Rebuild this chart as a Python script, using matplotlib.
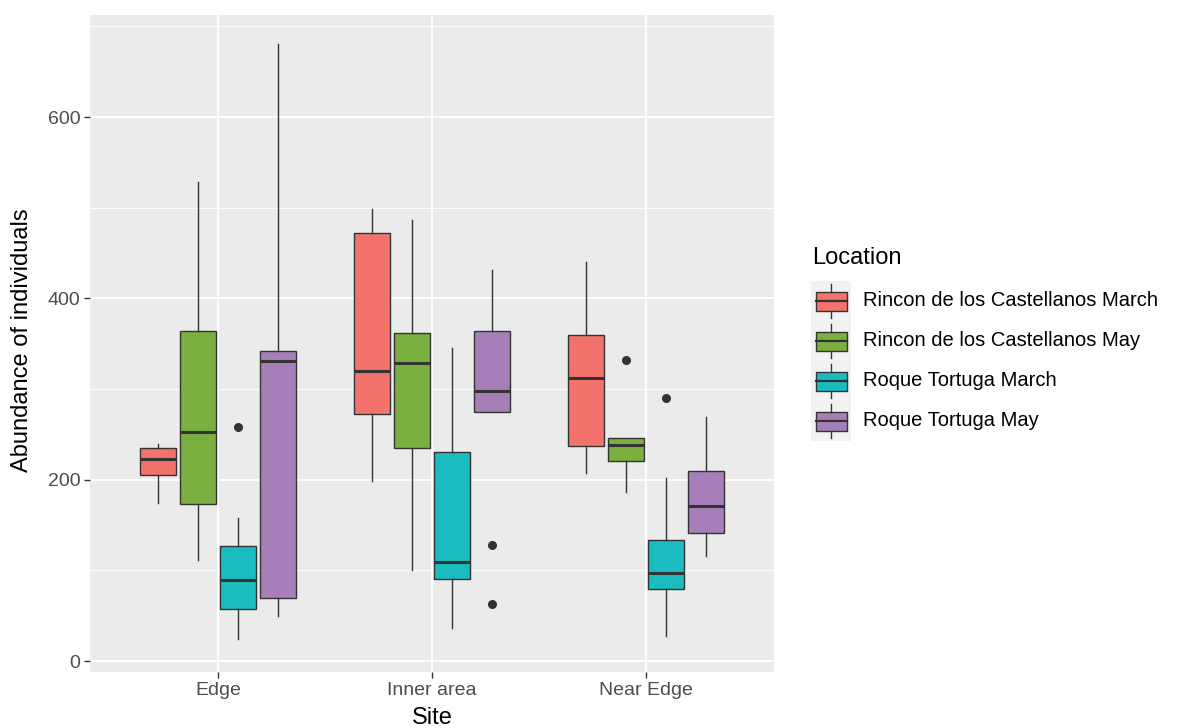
import matplotlib
matplotlib.use("Agg")
import matplotlib.pyplot as plt
from matplotlib.patches import Rectangle
import numpy as np

plt.rcParams['font.family'] = ['Liberation Sans', 'DejaVu Sans']

# data
sites = ['Edge', 'Inner area', 'Near Edge']
locations = ['Rincon de los Castellanos March', 'Rincon de los Castellanos May',
             'Roque Tortuga March', 'Roque Tortuga May']
colors = ['#F2736B', '#7BAF3F', '#1BBCBF', '#A67FB9']

# one row per location, one column per site
whislo = [[174, 199, 207], [111, 101, 186], [24, 37, 28], [50, 275, 116]]
q1 = [[205, 273, 237], [173, 235, 221], [58, 91, 79], [70, 275, 141]]
med = [[223, 320, 312], [253, 329, 238], [90, 109, 97], [331, 298, 171]]
q3 = [[235, 472, 360], [364, 362, 246], [127, 231, 134], [342, 364, 210]]
whishi = [[239, 499, 440], [528, 486, 246], [158, 345, 202], [680, 431, 269]]
fliers = [[[], [], []], [[], [], [332]], [[258], [], [290]], [[], [128, 63], []]]

W, H = 1178, 728
fig = plt.figure(figsize=(W / 100, H / 100), dpi=100)
ax = fig.add_axes([90 / W, 1 - 672 / H, (774 - 90) / W, (672 - 15) / H])
ax.set_facecolor('#EBEBEB')
for s in ax.spines.values():
    s.set_visible(False)

dodge = 0.75 / len(locations)
for j, loc in enumerate(locations):
    stats = []
    for i in range(len(sites)):
        stats.append(dict(whislo=whislo[j][i], q1=q1[j][i], med=med[j][i],
                          q3=q3[j][i], whishi=whishi[j][i], fliers=fliers[j][i]))
    pos = np.arange(1, len(sites) + 1) + (j - 1.5) * dodge
    ax.bxp(stats, positions=pos, widths=dodge * 0.9, patch_artist=True,
           showcaps=False, manage_ticks=False,
           boxprops=dict(facecolor=colors[j], edgecolor='#333333', linewidth=1.0),
           medianprops=dict(color='#333333', linewidth=2.2, solid_capstyle='butt'),
           whiskerprops=dict(color='#333333', linewidth=1.0),
           flierprops=dict(marker='o', markerfacecolor='#333333',
                           markeredgecolor='#333333', markersize=5.5))

ax.set_xlim(0.4, 3.6)
ax.set_ylim(-12, 712.5)
ax.set_xticks([1, 2, 3])
ax.set_xticklabels(sites)
ax.set_yticks([0, 200, 400, 600])
ax.set_yticks([100, 300, 500, 700], minor=True)
ax.set_axisbelow(True)
ax.grid(which='major', color='white', linewidth=1.4)
ax.grid(which='minor', axis='y', color='white', linewidth=0.7)
ax.tick_params(which='major', length=4, width=1, color='#333333',
               labelcolor='#4D4D4D', labelsize=14, pad=3)
ax.tick_params(which='minor', length=0)

fig.text(22 / W, 1 - 340 / H, 'Abundance of individuals', rotation=90,
         ha='center', va='center', fontsize=17)
fig.text(432 / W, 1 - 718 / H, 'Site', ha='center', va='center', fontsize=17)

# legend drawn like ggplot keys
lax = fig.add_axes([0, 0, 1, 1])
lax.set_xlim(0, W)
lax.set_ylim(H, 0)
lax.axis('off')
lax.text(812, 258, 'Location', ha='left', va='center', fontsize=17)
lax.add_patch(Rectangle((811, 281), 40, 40 * len(locations), facecolor='#F2F2F2',
                        edgecolor='none'))
for j, loc in enumerate(locations):
    cy = 301 + 40 * j
    lax.plot([831, 831], [cy - 17, cy - 9.5], color='#333333', lw=1.0)
    lax.plot([831, 831], [cy + 9.5, cy + 17], color='#333333', lw=1.0)
    lax.add_patch(Rectangle((815.5, cy - 9.5), 31, 19, facecolor=colors[j],
                            edgecolor='#333333', lw=1.0))
    lax.plot([815.5, 846.5], [cy, cy], color='#333333', lw=1.6)
    lax.text(863, cy, loc, ha='left', va='center', fontsize=14.5)

fig.savefig('out.png', dpi=100)
